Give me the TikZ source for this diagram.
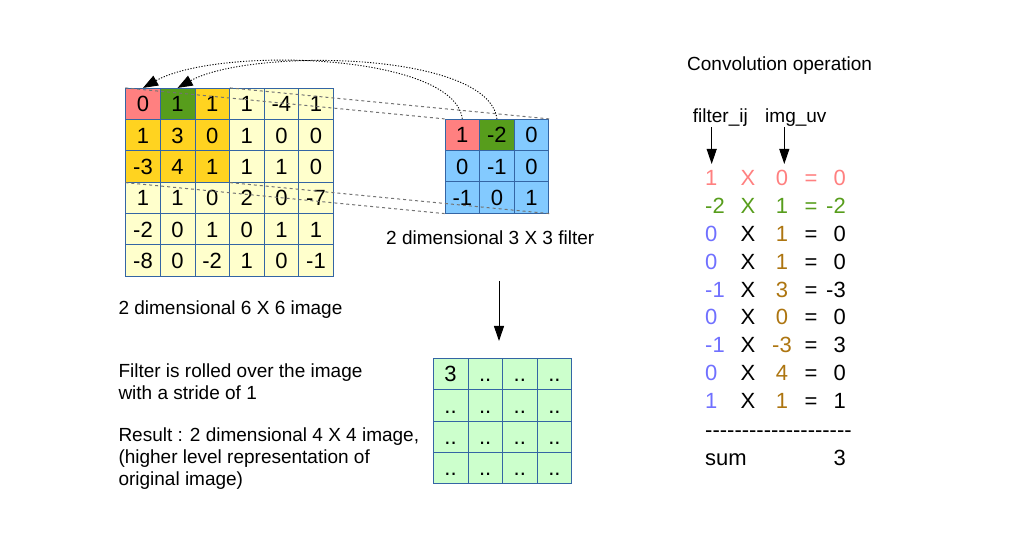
\documentclass[tikz,border=0pt]{standalone}
\usepackage{fontspec}
\setmainfont{Liberation Sans}
\usetikzlibrary{arrows.meta,positioning}

\definecolor{cellred}{HTML}{FF8080}
\definecolor{cellgreen}{HTML}{579D1C}
\definecolor{cellgold}{HTML}{FFD320}
\definecolor{cellpale}{HTML}{FFFFCC}
\definecolor{cellblue}{HTML}{83CAFF}
\definecolor{cellmint}{HTML}{CCFFCC}
\definecolor{gridline}{HTML}{3465A4}
\definecolor{opblue}{HTML}{7070FF}
\definecolor{opbrown}{HTML}{AD7510}

\begin{document}
\begin{tikzpicture}[x=1pt,y=-1pt,
	cell/.style   = {draw=gridline, line width=0.8pt, minimum width=34.6pt, minimum height=31.3pt, inner sep=0pt, text height=15.8pt, text depth=0pt, font=\fontsize{22}{22}\selectfont},
	note/.style   = {anchor=base west, inner sep=0pt, font=\fontsize{19}{22}\selectfont},
	eq/.style     = {inner sep=0pt, font=\fontsize{22}{22}\selectfont},
	guide/.style  = {draw=black!55, line width=1pt, dash pattern=on 3pt off 3pt},
	hop/.style    = {line width=0.9pt, dash pattern=on 1.2pt off 1.6pt, -{Triangle[length=15pt,width=11pt]}},
	pointer/.style= {line width=1pt, -{Triangle[length=15pt,width=10pt]}},
	]
	\useasboundingbox (0,0) rectangle (1021,556);
	
	% the 6 x 6 image, top left corner at (125.7,88.3)
	\foreach \row [count=\r] in {{0,1,1,1,-4,1},{1,3,0,1,0,0},{-3,4,1,1,1,0},{1,1,0,2,0,-7},{-2,0,1,0,1,1},{-8,0,-2,1,0,-1}} {
		\foreach \val [count=\c] in \row {
			\def\shade{cellpale}
			\ifnum\r<4 \ifnum\c<4 \def\shade{cellgold}\fi\fi
			\ifnum\r=1 \ifnum\c=1 \def\shade{cellred}\fi \ifnum\c=2 \def\shade{cellgreen}\fi\fi
			\node[cell, fill=\shade] (img-\r-\c) at ({125.7+34.6*(\c-0.5)},{88.3+31.3*(\r-0.5)}) {\val};
		}
	}
	
	% the 3 x 3 filter
	\foreach \row [count=\r] in {{1,-2,0},{0,-1,0},{-1,0,1}} {
		\foreach \val [count=\c] in \row {
			\def\shade{cellblue}
			\ifnum\r=1 \ifnum\c=1 \def\shade{cellred}\fi \ifnum\c=2 \def\shade{cellgreen}\fi\fi
			\node[cell, fill=\shade] (filt-\r-\c) at ({445+34.6*(\c-0.5)},{119.3+31.3*(\r-0.5)}) {\val};
		}
	}
	
	% the 4 x 4 result
	\foreach \r in {1,...,4}
	\foreach \c in {1,...,4} {
		\def\val{..}
		\ifnum\r=1 \ifnum\c=1 \def\val{3}\fi\fi
		\node[cell, fill=cellmint] (res-\r-\c) at ({433.3+34.6*(\c-0.5)},{358.3+31.3*(\r-0.5)}) {\val};
	}
	
	% dashed lines from the covered patch to the filter corners
	\draw[guide] (img-1-1.north west) -- (filt-1-1.north west);
	\draw[guide] (img-1-3.north east) -- (filt-1-3.north east);
	\draw[guide] (img-3-1.south west) -- (filt-3-1.south west);
	\draw[guide] (img-3-3.south east) -- (filt-3-3.south east);
	
	% dotted arcs back onto the image
	\draw[hop] (filt-1-1.north) .. controls +(-8,-66) and +(75,-42) .. (img-1-1.north);
	\draw[hop] (filt-1-2.north) .. controls +(-8,-68) and +(72,-40) .. (img-1-2.north);
	
	% captions
	\node[note] (filtcap) at (386,245) {2 dimensional 3 X 3 filter};
	\node[note] (imgcap) at (118.3,315) {2 dimensional 6 X 6 image};
	\node[note] (roll1) at (118.3,377.7) {Filter is rolled over the image};
	\node[note] (roll2) at (118.3,399.3) {with a stride of 1};
	\node[note] (out1) at (118.3,441.7) {Result : 2 dimensional 4 X 4 image,};
	\node[note] (out2) at (118.3,463.3) {(higher level representation of};
	\node[note] (out3) at (118.3,485) {original image)};
	
	\coordinate (down-a) at (499,281);
	\coordinate (down-b) at (499,341);
	\draw[pointer] (down-a) -- (down-b);
	
	% the convolution sum on the right
	\node[note] (convtitle) at (687,71) {Convolution operation};
	\node[note] (fij) at (692.7,123) {filter\_ij};
	\node[note] (iuv) at (765,123) {img\_uv};
	\coordinate (fij-tip) at (711.7,164);
	\coordinate (iuv-tip) at (784.3,164);
	\draw[pointer] (fij.south -| fij-tip) -- (fij-tip);
	\draw[pointer] (iuv.south -| iuv-tip) -- (iuv-tip);
	
	\foreach \a/\b/\res/\ca/\cb/\cx [count=\k] in {1/0/0/cellred/cellred/cellred, -2/1/-2/cellgreen/cellgreen/cellgreen, 0/1/0/opblue/opbrown/black, 0/1/0/opblue/opbrown/black, -1/3/-3/opblue/opbrown/black, 0/0/0/opblue/opbrown/black, -1/-3/3/opblue/opbrown/black, 0/4/0/opblue/opbrown/black, 1/1/1/opblue/opbrown/black} {
		\node[eq, anchor=base west, text=\ca] (fv-\k) at (705,{185.5+27.9*(\k-1)}) {\a};
		\node[eq, anchor=base, text=\cx] (times-\k) at (748,{185.5+27.9*(\k-1)}) {X};
		\node[eq, anchor=base, text=\cb] (iv-\k) at (782,{185.5+27.9*(\k-1)}) {\b};
		\node[eq, anchor=base, text=\cx] (equal-\k) at (811,{185.5+27.9*(\k-1)}) {=};
		\node[eq, anchor=base east, text=\cx] (rv-\k) at (846,{185.5+27.9*(\k-1)}) {\res};
	}
	
	\node[eq, anchor=base west] (rule) at (705,437) {-{}-{}-{}-{}-{}-{}-{}-{}-{}-{}-{}-{}-{}-{}-{}-{}-{}-{}-{}-{}};
	\node[eq, anchor=base west] (sumlbl) at (705,465) {sum};
	\node[eq, anchor=base east] (sumval) at (846,465) {3};
	
\end{tikzpicture}
\end{document}
